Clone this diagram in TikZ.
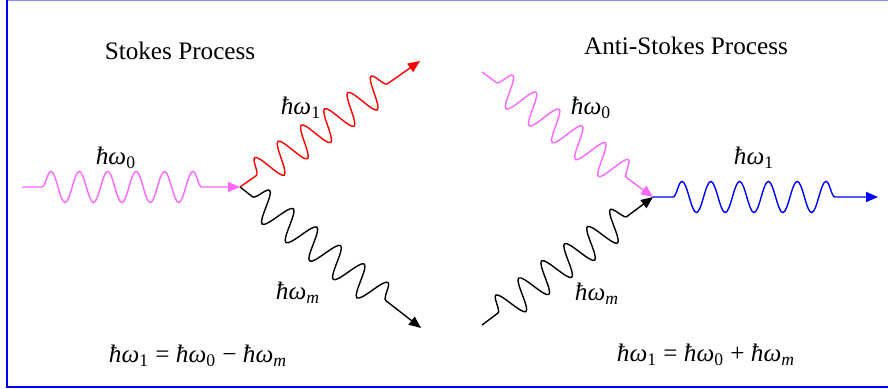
\documentclass[tikz,border=0pt]{standalone}
\usepackage{fontspec}
\setmainfont{Liberation Serif}
\usetikzlibrary{decorations.pathmorphing,arrows.meta}
\definecolor{pump}{RGB}{255,102,255}
\definecolor{framelight}{RGB}{140,140,255}
\newcommand\hw[1]{\textit{ħω}\textsubscript{#1}}
\tikzset{
  wave/.style args={#1/#2/#3}{decorate, decoration={snake, amplitude=7.8pt,
    segment length=#1, pre length=#2, post length=#3}},
  lbl/.style={inner sep=0pt},
}
\begin{document}
\begin{tikzpicture}[x=0.5pt, y=-0.5pt, line width=0.7pt, >={Triangle[length=6pt,width=5pt]},
  font=\fontsize{12.6}{15}\selectfont]
  \useasboundingbox (0,0) rectangle (888,389);

  % frame
  \draw[framelight, line width=1pt] (7,0.5) -- (888,0.5);
  \draw[blue, line width=1pt] (7,0) -- (7,387) -- (888,387);

  % Stokes
  \node[lbl] (stokes) at (180,51) {Stokes Process};
  \coordinate (s-in) at (22,187);
  \coordinate (s-v) at (240,187);
  \coordinate (s-out) at (420,61);
  \coordinate (s-ph) at (421,328);

  \draw[pump, ->, wave=14.2pt/10pt/13pt] (s-in) -- (s-v);
  \draw[red, ->, wave=14.2pt/10pt/14pt] (s-v) -- (s-out);
  \draw[black, ->, wave=15pt/8pt/16pt] (s-v) -- (s-ph);

  \node[lbl] (s-w0) at (116,158) {\hw{0}};
  \node[lbl] (s-w1) at (301,108) {\hw{1}};
  \node[lbl] (s-wm) at (298,293) {\hw{\textit{m}}};
  \node[lbl] (s-eq) at (198,356) {\hw{1} = \hw{0} − \hw{\textit{m}}};

  % Anti-Stokes
  \node[lbl] (antistokes) at (686,46) {Anti-Stokes Process};
  \coordinate (a-in) at (482,72);
  \coordinate (a-ph) at (482,325);
  \coordinate (a-v) at (653,197);
  \coordinate (a-out) at (878,197);

  \draw[pump, ->, wave=14.3pt/9pt/10pt] (a-in) -- (a-v);
  \draw[black, ->, wave=14.3pt/10pt/10pt] (a-ph) -- (a-v);
  \draw[blue, ->, wave=14.4pt/10pt/15.5pt] (a-v) -- (a-out);

  \node[lbl] (a-w0) at (591,108) {\hw{0}};
  \node[lbl] (a-w1) at (754,158) {\hw{1}};
  \node[lbl] (a-wm) at (597,294) {\hw{\textit{m}}};
  \node[lbl] (a-eq) at (706,355) {\hw{1} = \hw{0} + \hw{\textit{m}}};
\end{tikzpicture}
\end{document}
